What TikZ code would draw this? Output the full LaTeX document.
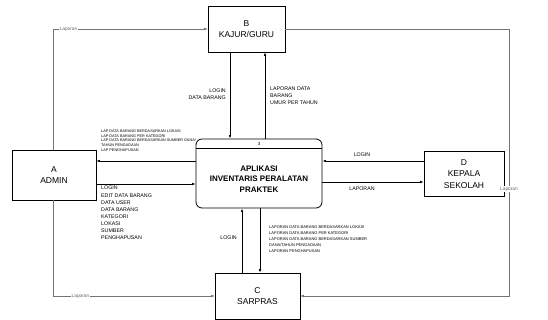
\documentclass[tikz,border=0pt]{standalone}
\usepackage{fontspec}
\setmainfont{Liberation Sans}
\usetikzlibrary{positioning, arrows.meta}

\tikzset{
    entity/.style={draw, rectangle, line width=0.6pt, align=center, font=\fontsize{8.5}{11.5}\selectfont},
    process/.style={draw, rectangle, rounded corners=6pt, line width=0.8pt, align=center},
    flow/.style={-{Latex[length=3.5pt,width=2.6pt]}, line width=0.7pt},
    report/.style={-{Latex[length=3.5pt,width=2.6pt]}, line width=0.45pt, black!55},
    lapor/.style={fill=white, inner sep=0.6pt, font=\fontsize{4.8}{5}\selectfont, text=black!60},
    smalllbl/.style={inner sep=0pt, align=left, font=\fontsize{5.3}{7.1}\selectfont},
    tinylbl/.style={inner sep=0pt, align=left, font=\fontsize{3.8}{4.9}\selectfont}
}

\begin{document}
\begin{tikzpicture}[x=1pt, y=-1pt]
    \useasboundingbox (0,0) rectangle (548,320);

    % Entities
    \node[entity, minimum width=84pt, minimum height=50pt] (admin) at (54,175) {A\\ADMIN};
    \node[entity, minimum width=77pt, minimum height=46pt] (kajur) at (246.5,29) {B\\KAJUR/GURU};
    \node[entity, minimum width=80pt, minimum height=45pt] (kepsek) at (464,174) {D\\KEPALA\\SEKOLAH};
    \node[entity, minimum width=85pt, minimum height=46pt] (sarpras) at (257.5,296) {C\\SARPRAS};

    % Process
    \node[process, minimum width=126pt, minimum height=69pt] (app) at (259,173.5) {};
    \draw[line width=0.6pt] (app.west |- 0,148) -- (app.east |- 0,148);
    \node[font=\fontsize{4.5}{5}\selectfont, inner sep=0pt] (appnum) at (259,143.5) {3};
    \node[font=\fontsize{8}{10.5}\selectfont\bfseries, align=center] (apptitle) at (259,179) {APLIKASI\\INVENTARIS PERALATAN\\PRAKTEK};

    % Helper coordinates
    \coordinate (hup) at (0,161);
    \coordinate (hadm) at (0,184);
    \coordinate (hkep) at (0,182);
    \coordinate (vkin) at (230,0);
    \coordinate (vkout) at (265,0);
    \coordinate (vsin) at (242,0);
    \coordinate (vsout) at (260,0);
    \coordinate (tl) at (53,29);
    \coordinate (bl) at (53,296);
    \coordinate (tr) at (509,29);
    \coordinate (br) at (509,296);

    % Data flows
    \draw[flow] (kajur.south -| vkin) -- (app.north -| vkin);
    \draw[flow] (app.north -| vkout) -- (kajur.south -| vkout);
    \draw[flow] (app.west |- hup) -- (admin.east |- hup);
    \draw[flow] (admin.east |- hadm) -- (app.west |- hadm);
    \draw[flow] (kepsek.west |- hup) -- (app.east |- hup);
    \draw[flow] (app.east |- hkep) -- (kepsek.west |- hkep);
    \draw[flow] (sarpras.north -| vsin) -- (app.south -| vsin);
    \draw[flow] (app.south -| vsout) -- (sarpras.north -| vsout);

    % Laporan
    \draw[report] (admin.north -| tl) -- (tl) -- node[lapor, pos=0.1] (lapkajur) {Laporan} (kajur.west);
    \draw[report] (admin.south -| bl) -- (bl) -- node[lapor, pos=0.17] (lapsarpras) {Laporan} (sarpras.west);
    \draw[report] (kajur.east) -- (tr) -- node[lapor, pos=0.6] (lapkanan) {Laporan} (br) -- (sarpras.east);

    % Labels
    \node[smalllbl, anchor=east, align=right] (lblkajurin) at (226,94) {LOGIN\\DATA BARANG};
    \node[smalllbl, anchor=west] (lblkajurout) at (270,96) {LAPORAN DATA\\BARANG\\UMUR PER TAHUN};
    \node[tinylbl, anchor=south west] (lbladminout) at (101,152) {LAP DATA BARANG BERDASARKAN LOKASI\\LAP DATA BARANG PER KATEGORI\\LAP DATA BARANG BERDASARKAN SUMBER DANA/\\TAHUN PENGADAAN\\LAP PENGHAPUSAN};
    \node[smalllbl, anchor=north west] (lbladminin) at (101,186) {LOGIN\\EDIT DATA BARANG\\DATA USER\\DATA BARANG\\KATEGORI\\LOKASI\\SUMBER\\PENGHAPUSAN};
    \node[smalllbl, anchor=south] (lblkepin) at (362,157) {LOGIN};
    \node[smalllbl, anchor=north] (lblkepout) at (362,187) {LAPORAN};
    \node[smalllbl, anchor=east] (lblsarin) at (237,238) {LOGIN};
    \node[tinylbl, anchor=north west, font=\fontsize{4}{5.8}\selectfont] (lblsarout) at (269,226) {LAPORAN DATA BARANG BERDASARKAN LOKASI\\LAPORAN DATA BARANG PER KATEGORI\\LAPORAN DATA BARANG BERDASARKAN SUMBER\\DANA/TAHUN PENGADAAN\\LAPORAN PENGHAPUSAN};
\end{tikzpicture}
\end{document}
